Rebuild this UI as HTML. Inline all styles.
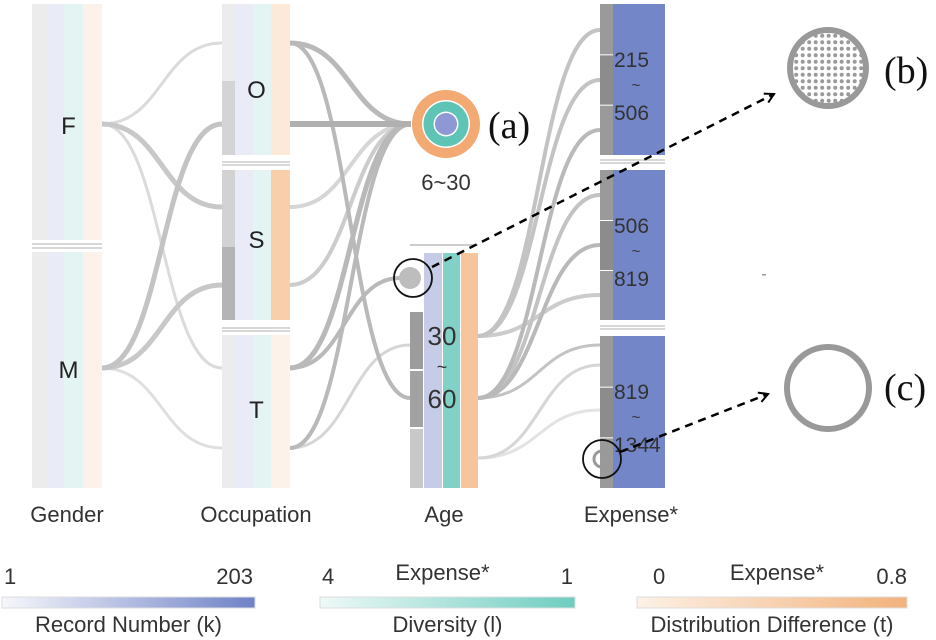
<!DOCTYPE html>
<html><head><meta charset="utf-8"><style>
html,body{margin:0;padding:0;background:#fff;}
svg{display:block;font-family:"Liberation Sans",sans-serif;}
</style></head><body>
<svg id="chart" width="936" height="640" viewBox="0 0 936 640" xmlns="http://www.w3.org/2000/svg">
<defs>
<linearGradient id="gk" x1="0" x2="1"><stop offset="0" stop-color="#f6f7fc"/><stop offset="1" stop-color="#6f82c6"/></linearGradient>
<linearGradient id="gl" x1="0" x2="1"><stop offset="0" stop-color="#eef9f7"/><stop offset="1" stop-color="#6ecdc0"/></linearGradient>
<linearGradient id="gt" x1="0" x2="1"><stop offset="0" stop-color="#fdf1e6"/><stop offset="1" stop-color="#f2b27c"/></linearGradient>
<pattern id="dots" width="6.5" height="6.5" patternUnits="userSpaceOnUse"><circle cx="3.2" cy="3.2" r="2" fill="#9a9a9a"/></pattern>
<marker id="arr" markerWidth="12" markerHeight="12" refX="10" refY="6" orient="auto" markerUnits="userSpaceOnUse"><path d="M1,1 L10,6 L1,11" fill="none" stroke="#000" stroke-width="2"/></marker>
</defs>
<g id="links"></g>
<g id="nodes"></g>
<g id="annot"></g>
</svg>
<script>
// ---- data ----
const linkSources = ["F","F","F","M","M","M","O","O","O","S","S","T","T","T","T","T","A2","A2","A2","A2","A2","A2","A2","A2","A2"];
const linkSourceY = [124,124,124,368,368,368,43,124,43,207,285,368,368,448,368,448,336,336,398,398,398,458,458,398,336];
const linkTargets = ["O","S","T","O","S","T","A1","A1","A2","A1","A1","A1","A1","A1","A2c","A2","E","E","E","E","E","E","E","E","E"];
const linkTargetY = [43,207,368,124,285,448,124,124,398,124,124,124,124,124,278,345,30,80,345,130,195,365,410,245,295];
const linkWeight = [3,5,3,5,5,3,5,6,4,4,4,5,4,4,4,3,4,4,3,4,4,3,3,4,4];
const linkShade = [0.12,0.22,0.12,0.25,0.22,0.1,0.3,0.35,0.3,0.15,0.2,0.3,0.3,0.3,0.3,0.15,0.25,0.25,0.25,0.3,0.25,0.15,0.08,0.3,0.2];
const expenseLabels = [["215","~","506"],["506","~","819"],["819","~","1344"]];
const axisNames = ["Gender","Occupation","Age","Expense*"];
const legendTitles = ["Record Number (k)","Diversity (l)","Distribution Difference (t)"];
const legendMin = ["1","4","0"];
const legendMax = ["203","1","0.8"];
const legendSub = ["","Expense*","Expense*"];

const NS="http://www.w3.org/2000/svg";
function mk(tag,attrs,parent,txt){const e=document.createElementNS(NS,tag);for(const k in attrs)e.setAttribute(k,attrs[k]);if(txt!==undefined)e.textContent=txt;parent.appendChild(e);return e;}
const colX={F:[102,'r'],M:[102,'r'],O:[290,'r'],S:[290,'r'],T:[290,'r'],A1:[411,'l'],A2:[478,'r'],A2c:[400,'l'],E:[600,'l']};
const tgtX={O:222,S:222,T:222,A1:411,A2:410,A2c:400,E:600};
const L=document.getElementById('links');
const order=linkShade.map((s,i)=>i).sort((a,b)=>linkShade[a]-linkShade[b]);
for(const i of order){
  const x1=colX[linkSources[i]][0],y1=linkSourceY[i],x2=tgtX[linkTargets[i]],y2=linkTargetY[i];
  const mx=(x1+x2)/2;
  const g=Math.round(242-linkShade[i]*190);
  const p=mk('path',{d:`M${x1},${y1} C${mx},${y1} ${mx},${y2} ${x2},${y2}`,fill:'none',stroke:`rgb(${g},${g},${g})`,'stroke-width':linkWeight[i]},L);
  
  
}
const N=document.getElementById('nodes');
function stripes(g,x,y,h,cols,ws){let cx=x;for(let i=0;i<cols.length;i++){mk('rect',{x:cx,y:y,width:ws[i],height:h,fill:cols[i]},g);cx+=ws[i];}}
function node(name,x,y,h,cols,ws,label,ly){
  const g=mk('g',{},N);
  stripes(g,x,y,h,cols,ws);
  if(label)mk('text',{x:x+ws[0]+ (ws.slice(1).reduce((a,b)=>a+b,0))/2-6,y:ly,'font-size':24,'text-anchor':'middle',fill:'#222'},g,label);
  return g;
}
const pale=['#ececec','#e9ebf6','#e4f4f2','#fdf2ea'];
const pw=[15,17,19,19];
node('gender-f',32,4,236,pale,pw,'F',134);
node('gender-m',32,252,236,pale,pw,'M',378);
mk('line',{x1:32,x2:102,y1:244,y2:244,stroke:'#ccc','stroke-width':1.5},N);
mk('line',{x1:32,x2:102,y1:248,y2:248,stroke:'#ccc','stroke-width':1.5},N);
const ow=[13,18,18,19];
const gO=node('occupation-o',222,4,151,['#ececec','#e9ebf6','#e4f4f2','#fde9d8'],ow,'O',98);
mk('rect',{x:222,y:81,width:13,height:74,fill:'#d4d4d4'},gO);
const gS=node('occupation-s',222,170,150,['#d2d2d2','#e9ebf6','#e4f4f2','#f8cfa8'],ow,'S',248);
mk('rect',{x:222,y:247,width:13,height:73,fill:'#b4b4b4'},gS);
node('occupation-t',222,335,153,['#ececec','#e9ebf6','#e4f4f2','#fdf2ea'],ow,'T',418);
[[162,165],[328,331]].forEach(p=>p.forEach(y=>mk('line',{x1:222,x2:290,y1:y,y2:y,stroke:'#ccc','stroke-width':1.5},N)));
const gA1=mk('g',{},N);
mk('circle',{cx:446,cy:124,r:34,fill:'#f2aa72'},gA1);
mk('circle',{cx:446,cy:124,r:24,fill:'#fff'},gA1);
mk('circle',{cx:446,cy:124,r:22.5,fill:'#5ec4b6'},gA1);
mk('circle',{cx:446,cy:124,r:12.5,fill:'#fff'},gA1);
mk('circle',{cx:446,cy:124,r:11,fill:'#8e98d4'},gA1);
mk('text',{x:446,y:190,'font-size':22,'text-anchor':'middle',fill:'#333'},gA1,'6~30');
const gA2=mk('g',{},N);
mk('line',{x1:410,x2:478,y1:245,y2:245,stroke:'#bbb','stroke-width':1.5},gA2);
mk('rect',{x:424,y:253,width:18,height:235,fill:'#c6cbe8'},gA2);
mk('rect',{x:443,y:253,width:17,height:235,fill:'#82d1c6'},gA2);
mk('rect',{x:461,y:253,width:17,height:235,fill:'#f6c59c'},gA2);
mk('rect',{x:410,y:312,width:13,height:57,fill:'#9c9c9c'},gA2);
mk('rect',{x:410,y:371,width:13,height:56,fill:'#a2a2a2'},gA2);
mk('rect',{x:410,y:429,width:13,height:59,fill:'#c8c8c8'},gA2);
[['30',345],['~',373],['60',408]].forEach(t=>mk('text',{x:442,y:t[1],'font-size':t[0]=='~'?18:26,'text-anchor':'middle',fill:'#333'},gA2,t[0]));
const eb=[[4,155],[170,320],[336,488]];
eb.forEach((b,i)=>{
  const g=mk('g',{},N);
  mk('rect',{x:613,y:b[0],width:52,height:b[1]-b[0],fill:'#7386c8'},g);
  const h=(b[1]-b[0])/3;
  for(let k=0;k<3;k++)mk('rect',{x:600,y:b[0]+k*h+(k?1:0),width:13,height:h-(k?1:0),fill:k==1?'#8c8c8c':'#9a9a9a'},g);
  const lb=expenseLabels[i];
  mk('text',{x:614,y:b[0]+63,'font-size':21,fill:'#333'},g,lb[0]);
  mk('text',{x:636,y:b[0]+86,'font-size':15,'text-anchor':'middle',fill:'#333'},g,lb[1]);
  mk('text',{x:614,y:b[0]+116,'font-size':21,fill:'#333'},g,lb[2]);
});
[[160,163],[326,329]].forEach(p=>p.forEach(y=>mk('line',{x1:600,x2:665,y1:y,y2:y,stroke:'#ccc','stroke-width':1.5},N)));
const ax=[67,256,444,631];
axisNames.forEach((n,i)=>{const t=mk('text',{x:ax[i],y:522,'font-size':22,'text-anchor':'middle',fill:'#333'},N,n);});
const A=document.getElementById('annot');
mk('circle',{cx:410,cy:278,r:11,fill:'#bdbdbd'},A);
mk('circle',{cx:413,cy:278,r:19,fill:'none',stroke:'#111','stroke-width':1.8},A);
mk('line',{x1:432,y1:267,x2:774,y2:94,stroke:'#000','stroke-width':2.5,'stroke-dasharray':'8,6','marker-end':'url(#arr)'},A);
mk('circle',{cx:602,cy:459,r:8,fill:'none',stroke:'#999','stroke-width':3},A);
mk('circle',{cx:602,cy:459,r:19,fill:'none',stroke:'#111','stroke-width':1.8},A);
mk('line',{x1:620,y1:452,x2:768,y2:394,stroke:'#000','stroke-width':2.5,'stroke-dasharray':'8,6','marker-end':'url(#arr)'},A);
const gb=mk('g',{},A);
mk('circle',{cx:828,cy:68,r:38,fill:'url(#dots)',stroke:'#999','stroke-width':6},gb);
mk('text',{x:884,y:83,'font-size':38,'font-family':'Liberation Serif, serif',fill:'#111'},gb,'(b)');
const gc=mk('g',{},A);
mk('circle',{cx:828,cy:388,r:41,fill:'none',stroke:'#999','stroke-width':6},gc);
mk('text',{x:884,y:400,'font-size':38,'font-family':'Liberation Serif, serif',fill:'#111'},gc,'(c)');
const ga=mk('text',{x:488,y:138,'font-size':38,'font-family':'Liberation Serif, serif',fill:'#111'},A,'(a)');

mk('rect',{x:762,y:274,width:4,height:1.5,fill:'#999'},A);
const lg=[[2,255],[320,575],[637,907]];
const grads=['url(#gk)','url(#gl)','url(#gt)'];
lg.forEach((b,i)=>{
  const g=mk('g',{},A);
  mk('rect',{x:b[0],y:597,width:b[1]-b[0],height:11,fill:grads[i],stroke:'#ddd','stroke-width':1},g);
  mk('text',{x:b[0]+(i==2?16:2),y:584,'font-size':22,fill:'#333'},g,legendMin[i]);
  mk('text',{x:b[1]-(i==2?0:2),y:584,'font-size':22,'text-anchor':'end',fill:'#333'},g,legendMax[i]);
  if(legendSub[i])mk('text',{x:(b[0]+b[1])/2+(i==1?-5:5),y:580,'font-size':22,'text-anchor':'middle',fill:'#333'},g,legendSub[i]);
  mk('text',{x:(b[0]+b[1])/2,y:632,'font-size':22,'text-anchor':'middle',fill:'#333'},g,legendTitles[i]);
});
</script>
</body></html>
